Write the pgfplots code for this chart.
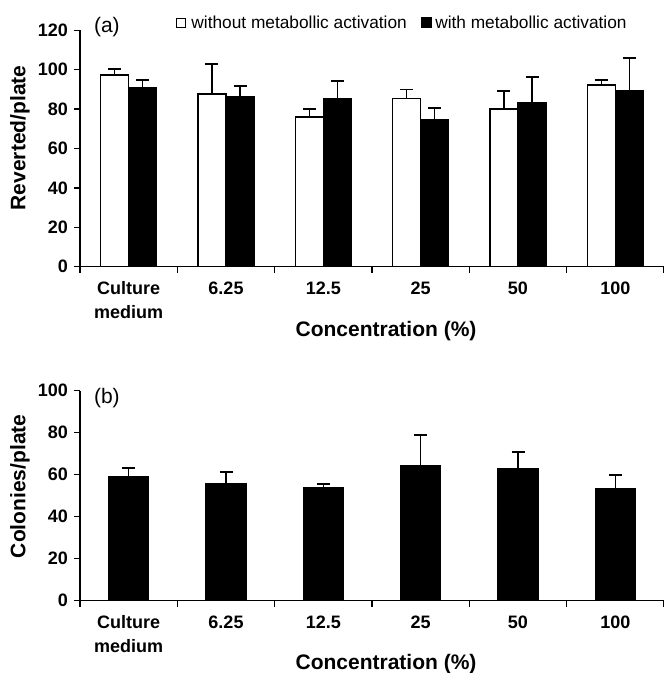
\documentclass[border=0pt]{standalone}
\usepackage{pgfplots}
\pgfplotsset{compat=1.18}
\usepackage{fontspec}
\setmainfont{Liberation Sans}

\pgfplotsset{
  myaxis/.style={
    scale only axis, width=584bp,
    axis lines=left, axis line style={-, line width=1.3bp},
    xmin=-0.5, xmax=5.5, ymin=0,
    xtick={0,...,5},
    xticklabels={{Culture\\medium},6.25,12.5,25,50,100},
    minor xtick={-0.5,0.5,1.5,2.5,3.5,4.5,5.5},
    major tick length=0bp, minor tick length=6bp,
    tick align=outside,
    tick style={line width=1.3bp, black},
    /pgf/number format/assume math mode=true,
    tick label style={font=\fontsize{18bp}{24bp}\selectfont\bfseries},
    xticklabel style={align=center, anchor=north, inner sep=0pt, yshift=-15bp},
    yticklabel style={anchor=east, inner sep=0pt, xshift=-12bp},
    label style={font=\fontsize{21bp}{21bp}\selectfont\bfseries},
    ylabel style={at={(axis description cs:-0.1027,0.545)}, anchor=center},
    clip=false,
    ybar,
  },
  myerr/.style={/pgfplots/error bars/.cd, y dir=plus, y explicit,
    error bar style={line width=1.3bp, black},
    error mark options={rotate=90, mark size=6.5bp, line width=1.8bp, black},
    /pgfplots/.cd},
}

\begin{document}
\begin{tikzpicture}
\path[use as bounding box] (0,0) rectangle (664bp,-673bp);
\begin{axis}[myaxis,
  at={(80bp,-266.7bp)}, anchor=south west,
  height=236.4bp, ymax=120,
  ytick={0,20,...,120}, minor ytick={0,20,...,120},
  ylabel={Reverted/plate},
  xlabel={Concentration (\%)},
  xlabel style={at={(axis description cs:0.524,-0.272)}, anchor=center},
  legend columns=2,
  legend style={at={(0.164,1.033)}, anchor=west, draw=none, fill=none,
    inner sep=0pt, font=\fontsize{17.3bp}{17.3bp}\selectfont,
    nodes={inner sep=2bp},
    /tikz/every even column/.append style={column sep=12bp}},
]
\addplot[fill=white, draw=black, line width=1.3bp, bar width=0.288, bar shift=-0.144,
  legend image code/.code={\draw[black, fill=white, line width=0.9bp] (0bp,-4.5bp) rectangle (9bp,4.5bp); \path[draw=none, fill=none] (0bp,-0.1bp) rectangle (13bp,0.1bp);}, myerr]
coordinates {(0,97.3) +- (0,2.9) (1,87.7) +- (0,15.0) (2,76.0) +- (0,3.9)
             (3,85.3) +- (0,4.7) (4,80.1) +- (0,9.2) (5,92.2) +- (0,2.6)};
\addlegendentry{without metabollic activation}
\addplot[fill=black, draw=black, line width=1.3bp, bar width=0.288, bar shift=0.144,
  legend image code/.code={\draw[black, fill=black, line width=0.9bp] (0bp,-5bp) rectangle (10bp,5bp); \path[draw=none, fill=none] (0bp,-0.1bp) rectangle (12bp,0.1bp);}, myerr]
coordinates {(0,91.0) +- (0,3.8) (1,86.3) +- (0,5.4) (2,85.5) +- (0,8.8)
             (3,74.5) +- (0,6.2) (4,83.1) +- (0,13.3) (5,89.3) +- (0,16.5)};
\addlegendentry{with metabollic activation}
\node[font=\fontsize{21bp}{21bp}\selectfont, anchor=center] at (rel axis cs:0.046,1.012) {(a)};
\end{axis}

\begin{axis}[myaxis,
  at={(80bp,-600.7bp)}, anchor=south west,
  height=210bp, ymax=100,
  ytick={0,20,...,100}, minor ytick={0,20,...,100},
  ylabel={Colonies/plate},
  xlabel={Concentration (\%)},
  xlabel style={at={(axis description cs:0.524,-0.301)}, anchor=center},
]
\addplot[fill=black, draw=black, line width=1.3bp, bar width=0.41, bar shift=0, myerr]
coordinates {(0,59.0) +- (0,4.2) (1,55.9) +- (0,5.2) (2,53.8) +- (0,1.9)
             (3,64.1) +- (0,14.9) (4,62.7) +- (0,8.1) (5,53.2) +- (0,6.5)};
\node[font=\fontsize{21bp}{21bp}\selectfont, anchor=center] at (rel axis cs:0.046,0.965) {(b)};
\end{axis}
\end{tikzpicture}
\end{document}
